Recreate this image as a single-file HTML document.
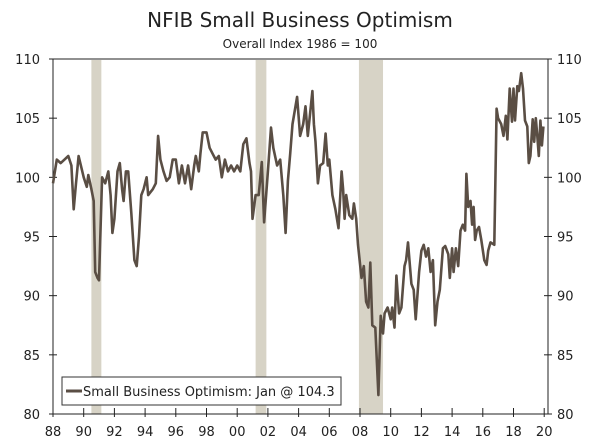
<!DOCTYPE html>
<html><head><meta charset="utf-8"><style>
body{margin:0;background:#fff}
svg text{font-family:"DejaVu Sans","Liberation Sans",sans-serif;fill:#222}
</style></head><body>
<svg id="c" width="600" height="443">
<text x="300" y="27" text-anchor="middle" font-size="20">NFIB Small Business Optimism</text>
<text x="300" y="48" text-anchor="middle" font-size="12">Overall Index 1986 = 100</text>
<g id="rec"></g><g id="axes"></g><g id="line"></g>
<g>
<rect x="62" y="377" width="279" height="28" fill="#fff" stroke="#333" stroke-width="1"/>
<line x1="66" y1="391" x2="82" y2="391" stroke="#5a4e44" stroke-width="3"/>
<text x="83" y="396" font-size="13">Small Business Optimism: Jan @ 104.3</text>
</g>
</svg>
<script>
const years=[1988.0,1988.25,1988.5,1988.75,1989.0,1989.2,1989.35,1989.5,1989.67,1990.0,1990.2,1990.3,1990.5,1990.65,1990.75,1990.9,1991.0,1991.2,1991.4,1991.6,1991.75,1991.87,1992.0,1992.2,1992.35,1992.5,1992.6,1992.75,1992.9,1993.1,1993.3,1993.45,1993.6,1993.75,1993.9,1994.1,1994.2,1994.5,1994.7,1994.85,1995.0,1995.2,1995.4,1995.6,1995.8,1996.0,1996.2,1996.4,1996.6,1996.8,1997.0,1997.2,1997.3,1997.5,1997.6,1997.75,1998.0,1998.2,1998.4,1998.6,1998.8,1999.0,1999.2,1999.4,1999.6,1999.8,2000.0,2000.2,2000.4,2000.6,2000.8,2000.9,2001.0,2001.2,2001.4,2001.6,2001.75,2002.0,2002.2,2002.35,2002.6,2002.8,2003.0,2003.15,2003.3,2003.45,2003.6,2003.9,2004.1,2004.3,2004.45,2004.6,2004.9,2005.0,2005.1,2005.26,2005.4,2005.6,2005.76,2005.9,2006.0,2006.2,2006.4,2006.6,2006.8,2006.9,2007.0,2007.1,2007.3,2007.5,2007.6,2007.75,2007.87,2008.1,2008.25,2008.4,2008.55,2008.67,2008.8,2009.0,2009.2,2009.35,2009.5,2009.6,2009.8,2010.0,2010.1,2010.25,2010.37,2010.55,2010.7,2010.9,2011.0,2011.13,2011.35,2011.5,2011.63,2011.85,2012.0,2012.15,2012.3,2012.45,2012.6,2012.75,2012.9,2013.05,2013.2,2013.4,2013.55,2013.75,2013.85,2014.0,2014.1,2014.25,2014.4,2014.55,2014.7,2014.85,2014.93,2015.05,2015.2,2015.3,2015.4,2015.5,2015.6,2015.75,2015.9,2016.1,2016.25,2016.35,2016.5,2016.75,2016.9,2017.0,2017.2,2017.35,2017.5,2017.6,2017.75,2017.9,2018.0,2018.1,2018.25,2018.35,2018.5,2018.62,2018.75,2018.9,2019.0,2019.1,2019.25,2019.35,2019.45,2019.55,2019.65,2019.75,2019.85,2019.95,2020.05];
const values=[99.5,101.5,101.2,101.5,101.8,101.0,97.3,99.5,101.8,100,99.2,100.2,99,98,92,91.5,91.3,100,99.5,100.5,98.5,95.3,96.5,100.5,101.2,99,98,100.5,100.5,97,93,92.5,95,98.5,99,100,98.5,99,99.5,103.5,101.5,100.5,99.7,100,101.5,101.5,99.5,101,99.5,101,99,101,101.8,100.5,102,103.8,103.8,102.5,102,101.5,101.8,100,101.5,100.5,101,100.5,101,100.5,102.8,103.3,101.2,100.5,96.5,98.5,98.5,101.3,96.2,100.5,104.2,102.5,101,101.5,98.5,95.3,99.7,102,104.5,106.8,103.5,104.5,106,103.5,107.3,104.5,103,99.5,101,101.2,103.7,101,101.5,98.5,97.3,95.7,100.5,99,96.5,98.5,96.8,96.5,97.8,96.5,94.3,91.5,92.5,89.5,89.0,92.8,87.5,87.3,81.6,88.3,86.8,88.5,89,88,89,87.3,91.7,88.5,89,92.5,93,94.5,91,90.5,88,92,93.8,94.3,93.3,94,92,93,87.5,89.5,90.5,94,94.2,93.5,91.5,94,92,94,92.5,95.5,96,95.5,100.3,97.5,98,96,97.5,94.7,95.5,95.8,94.7,93,92.6,93.8,94.5,94.3,105.8,105,104.5,103.5,105.2,103.2,107.5,104.7,107.5,104.8,107.7,107.3,108.8,107.5,104.8,104.3,101.2,101.8,104.9,103,105,103.5,101.8,104.8,102.7,104.3];
const recStart=[1990.5,2001.2,2007.93];
const recEnd=[1991.15,2001.9,2009.5];
const yTicks=[80,85,90,95,100,105,110];
const xTickYears=[1988,1990,1992,1994,1996,1998,2000,2002,2004,2006,2008,2010,2012,2014,2016,2018,2020];
const xTickLabels=["88","90","92","94","96","98","00","02","04","06","08","10","12","14","16","18","20"];
const L=53,R=548,T=59,B=414;
const xs=y=>L+(y-1988)*15.35;
const ys=v=>B-(v-80)*(B-T)/30;
const NS="http://www.w3.org/2000/svg";
function mk(t,a,p){const e=document.createElementNS(NS,t);for(const k in a)e.setAttribute(k,a[k]);p.appendChild(e);return e;}
const rec=document.getElementById('rec'),ax=document.getElementById('axes'),ln=document.getElementById('line');
recStart.forEach((s,i)=>{const r=mk('rect',{x:xs(s),y:T+1,width:xs(recEnd[i])-xs(s),height:B-T-1,fill:'#d7d3c6'},rec);

});
const frame=mk('path',{d:`M${L},${T}H${R}M${L},${T}V${B}H${R}V${T}`,stroke:'#222','stroke-width':1,fill:'none'},ax);


yTicks.forEach(v=>{const y=ys(v);
mk('line',{x1:L-4,x2:L+4,y1:y,y2:y,stroke:'#222'},ax);
mk('line',{x1:R-4,x2:R+4,y1:y,y2:y,stroke:'#222'},ax);
const t1=mk('text',{x:L-13,y:y+5,'text-anchor':'end','font-size':13},ax);t1.textContent=v;


const t2=mk('text',{x:R+9,y:y+5,'font-size':13},ax);t2.textContent=v;

});
xTickYears.forEach((yr,i)=>{const x=xs(yr);
mk('line',{x1:x,x2:x,y1:B-6,y2:B+3,stroke:'#222'},ax);
const t=mk('text',{x:x,y:B+22,'text-anchor':'middle','font-size':13},ax);t.textContent=xTickLabels[i];

});
const p=mk('path',{d:years.map((y,i)=>(i?'L':'M')+xs(y).toFixed(1)+','+ys(values[i]).toFixed(1)).join(''),stroke:'#5a4e44','stroke-width':2.6,fill:'none','stroke-linejoin':'round'},ln);


</script>
</body></html>
